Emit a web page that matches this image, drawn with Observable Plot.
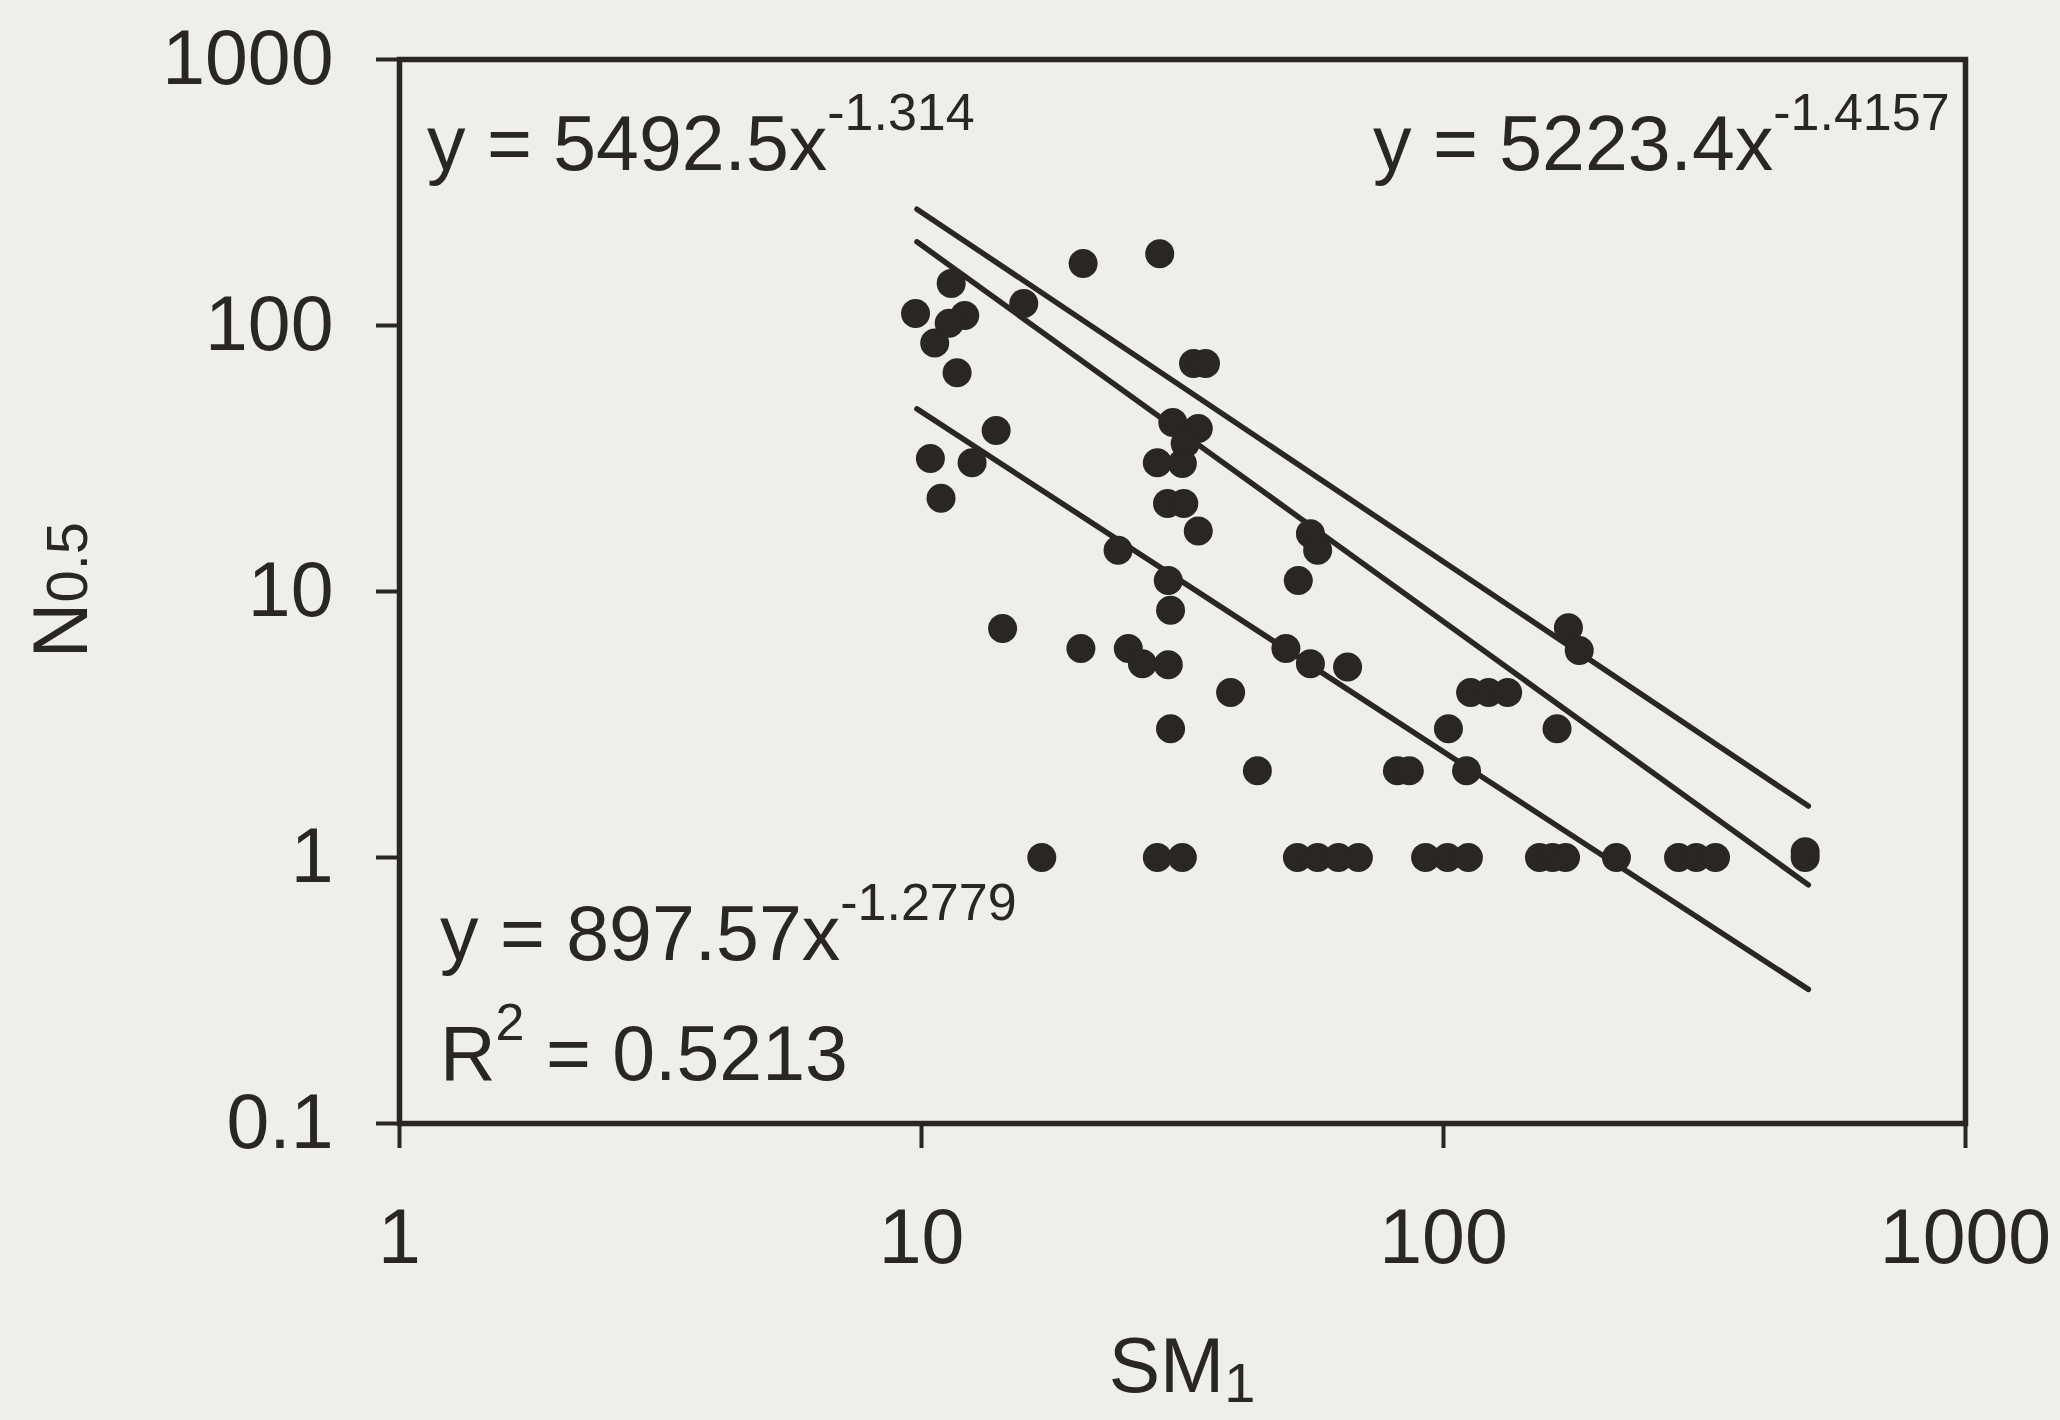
<!DOCTYPE html>
<html><head><meta charset="utf-8">
<script src="https://cdn.jsdelivr.net/npm/d3@7"></script>
<script src="https://cdn.jsdelivr.net/npm/@observablehq/plot@0.6"></script>
<style>
html,body{margin:0;padding:0;background:#eeeeea;}
</style></head><body><div id="chart"></div>
<script>
// SM1 values (x) and N0.5 values (y)
const sm1 = [20.4, 28.6, 11.4, 15.7, 9.74, 12.1, 11.3, 10.6, 11.7, 33.2, 35.0,
  30.3, 33.9, 32.0, 28.3, 31.6, 29.6, 31.8, 33.9, 13.9, 10.4, 12.5, 10.9,
  23.8, 29.7, 30.0, 55.6, 57.4, 52.7, 14.3, 20.2, 24.9, 26.5, 29.7, 49.9,
  55.6, 65.5, 39.1, 30.0, 44.0, 81.6, 86.0, 110.7, 112.7, 122, 132.7, 102.2,
  165, 173.5, 182,
  17.0, 28.3, 31.6, 52.5, 57.4, 62.9, 68.7, 92.4, 101.8, 111.6, 152.7, 161.8,
  171.3, 214.4, 282, 305, 332, 493, 493];
const n05 = [171, 186, 144, 121, 111, 109, 102, 86, 66.5, 72, 72,
  43.2, 41, 36, 30.5, 30.3, 21.4, 21.4, 16.9, 40.3, 31.6, 30.5, 22.4,
  14.3, 11.0, 8.5, 16.5, 14.3, 11.0, 7.26, 6.1, 6.1, 5.35, 5.3, 6.1,
  5.35, 5.2, 4.17, 3.05, 2.12, 2.12, 2.12, 2.12, 4.17, 4.17, 4.17, 3.05,
  3.05, 7.3, 6.0,
  1, 1, 1, 1, 1, 1, 1, 1, 1, 1, 1, 1,
  1, 1, 1, 1, 1, 1, 1.05];

// power-law fits shown on the chart: y = a * x^b
const fitA = [5492.5, 5223.4, 897.57];
const fitB = [-1.314, -1.4157, -1.2779];
const fitXRange = [9.8, 500];

const xTicks = [1, 10, 100, 1000];
const yTicks = [0.1, 1, 10, 100, 1000];

const ink = "#2a2626";
const font = "'Liberation Sans', Arial, sans-serif";

const points = sm1.map((x, i) => ({x, y: n05[i]}));
const fitRows = fitA.flatMap((a, i) => fitXRange.map(x => ({fit: i, x, y: a * Math.pow(x, fitB[i])})));

const svg = Plot.plot({
  width: 2060, height: 1420,
  marginLeft: 399, marginRight: 95, marginTop: 59, marginBottom: 297,
  style: {background: "#eeeeea", fontFamily: font, fontSize: "77px", color: ink},
  x: {type: "log", domain: [1, 1000]},
  y: {type: "log", domain: [0.1, 1000]},
  marks: [
    Plot.axisX({ticks: xTicks, tickFormat: d => String(d), tickSize: 25, tickPadding: 60, strokeWidth: 4, stroke: ink, fill: ink, label: null, fontSize: 77}),
    Plot.axisY({ticks: yTicks, tickFormat: d => String(d), tickSize: 23, tickPadding: 43, strokeWidth: 4, stroke: ink, fill: ink, label: null, fontSize: 77}),
    Plot.frame({stroke: ink, strokeWidth: 5.5}),
    Plot.line(fitRows, {x: "x", y: "y", z: "fit", stroke: ink, strokeWidth: 5.5}),
    Plot.dot(points, {x: "x", y: "y", r: 14.5, fill: ink, stroke: "none"})
  ]
});
document.getElementById("chart").appendChild(svg);

const s = d3.select(svg);
function eq(x, y, main, sup, after) {
  const t = s.append("text").attr("x", x).attr("y", y).attr("text-anchor", "start")
    .attr("font-family", font).attr("font-size", 77).attr("fill", ink);
  t.append("tspan").text(main);
  t.append("tspan").attr("dy", -40).attr("font-size", 52).text(sup);
  if (after) t.append("tspan").attr("dy", 40).text(after);
}
eq(427, 170, "y = 5492.5x", "-1.314");
eq(1373, 170, "y = 5223.4x", "-1.4157");
eq(440, 960, "y = 897.57x", "-1.2779");
eq(440, 1080, "R", "2", " = 0.5213");

// axis titles
const xl = s.append("text").attr("x", 1182).attr("y", 1392).attr("text-anchor", "middle")
  .attr("font-family", font).attr("font-size", 77).attr("fill", ink);
xl.append("tspan").text("SM");
xl.append("tspan").attr("dy", 10).attr("font-size", 56).text("1");

const yl = s.append("text").attr("transform", "translate(87,590) rotate(-90)").attr("text-anchor", "middle")
  .attr("font-family", font).attr("font-size", 77).attr("fill", ink);
yl.append("tspan").text("N");
yl.append("tspan").attr("font-size", 58).text("0.5");
</script></body></html>
